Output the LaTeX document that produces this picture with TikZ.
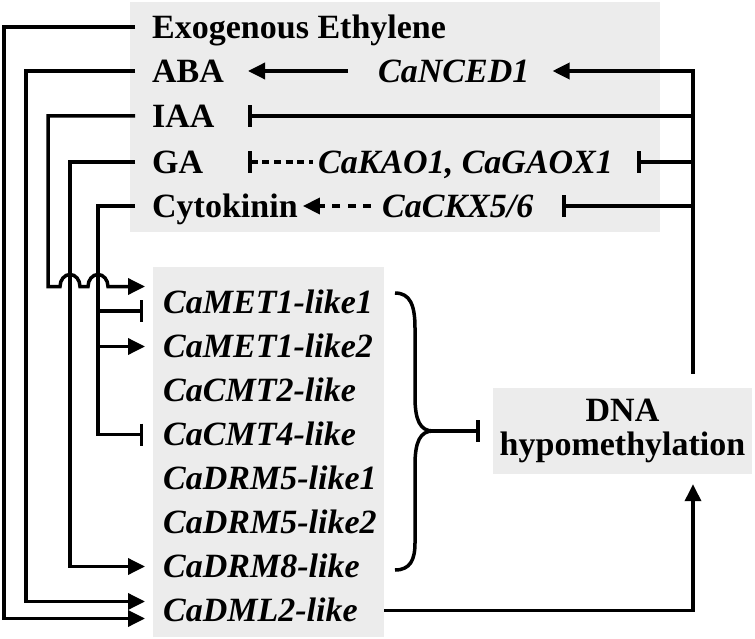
\documentclass[tikz,border=0pt]{standalone}
\usepackage{fontspec}
\setmainfont{Liberation Serif}
\usetikzlibrary{arrows.meta,calc}
\definecolor{boxgray}{RGB}{236,236,236}
\begin{document}
\begin{tikzpicture}[x=1pt,y=-1pt,
  lbl/.style={inner sep=0pt,text height=22.5pt,text depth=0pt,anchor=west,font=\fontsize{34}{36}\selectfont\bfseries},
  gene/.style={lbl,font=\fontsize{34}{36}\selectfont\bfseries\itshape},
  ln/.style={line width=3.5pt},
  arr/.style={ln,-{Triangle[length=17pt,width=16pt]}},
  inh/.style={ln,-{Bar[width=22pt]}},
  inhs/.style={ln,{Bar[width=22pt]}-},
  dsha/.style={dash pattern=on 7pt off 4.7pt},
  dshb/.style={dash pattern=on 8pt off 7.5pt}]
\useasboundingbox (0,0) rectangle (755,639);
% boxes
\node[fill=boxgray,inner sep=0pt,minimum width=530pt,minimum height=230pt] (tbox) at (395,117) {};
\node[fill=boxgray,inner sep=0pt,minimum width=231pt,minimum height=370pt] (gbox) at (268.5,452) {};
\node[fill=boxgray,inner sep=0pt,minimum width=259pt,minimum height=86pt,align=center,font=\fontsize{34}{34}\selectfont\bfseries] (dna) at (622.5,431) {DNA\\hypomethylation};
% top labels
\node[lbl] (eth) at (152,27) {Exogenous Ethylene};
\node[lbl] (aba) at (152,71) {ABA};
\node[lbl] (iaa) at (152,116) {IAA};
\node[lbl] (ga) at (152,162) {GA};
\node[lbl] (cyt) at (152,206) {Cytokinin};
\node[gene] (ncd) at (378,71) {CaNCED1};
\node[gene] (kao) at (318,162) {CaKAO1, CaGAOX1};
\node[gene] (ckx) at (382,206) {CaCKX5/6};
% genes
\node[gene] (met1) at (163,302.5) {CaMET1-like1};
\node[gene] (met2) at (163,346.5) {CaMET1-like2};
\node[gene] (cmt2) at (163,390.5) {CaCMT2-like};
\node[gene] (cmt4) at (163,434.5) {CaCMT4-like};
\node[gene] (drm51) at (163,478.5) {CaDRM5-like1};
\node[gene] (drm52) at (163,522.5) {CaDRM5-like2};
\node[gene] (drm8) at (163,566.5) {CaDRM8-like};
\node[gene] (dml) at (163,610.5) {CaDML2-like};
% helper coordinates
\coordinate (rv) at (693,0);
\coordinate (bx) at (248,0);
\coordinate (brtip) at (433,431);
% left connectors
\draw[arr] ($(eth.west)+(-17,0)$) -| ($(dml.west)+(-159,8)$) -- ($(dml.west)+(-18,8)$);
\draw[arr] ($(aba.west)+(-17,0)$) -| ($(dml.west)+(-137,-9)$) -- ($(dml.west)+(-18,-9)$);
\draw[arr] ($(iaa.west)+(-17,0)$) -| ($(met1.west)+(-115,-16)$) -- ($(met1.west)+(-103,-16)$)
  arc[start angle=180,end angle=0,x radius=10pt,y radius=12pt] -- ($(met1.west)+(-75,-16)$)
  arc[start angle=180,end angle=0,x radius=10pt,y radius=12pt] -- ($(met1.west)+(-18,-16)$);
\draw[arr] ($(ga.west)+(-17,0)$) -| ($(drm8.west)+(-93,0)$) -- ($(drm8.west)+(-18,0)$);
\draw[inh] ($(cyt.west)+(-17,0)$) -| ($(cmt4.west)+(-65,0)$) -- ($(cmt4.west)+(-20,0)$);
\draw[inh] ($(met1.west)+(-65,8.5)$) -- ($(met1.west)+(-20,8.5)$);
\draw[arr] ($(met2.west)+(-65,0)$) -- ($(met2.west)+(-18,0)$);
% top connectors
\draw[arr] ($(ncd.west)+(-30,0)$) -- (aba.center -| bx);
\draw[arr] ($(dna.north -| rv)+(0,-14)$) |- ($(ncd.east)+(23,0)$);
\draw[inh] (iaa.center -| rv) -- (iaa.center -| bx);
\draw[inhs,dsha] (ga.center -| bx) -- ($(kao.west)+(-5,0)$);
\draw[inh] (ga.center -| rv) -- ++(-56,0);
\draw[arr,dshb] ($(ckx.west)+(-11,0)$) -- ($(cyt.east)+(5,0)$);
\draw[inh] (cyt.center -| rv) -- ++(-131,0);
% bottom connector
\draw[arr] (dml.center -| gbox.east) -| ($(dna.south -| rv)+(0,10)$);
% brace
\draw[ln] (brtip) .. controls (420,431) and (415,420) .. (415,397) -- (415,328) .. controls (415,305) and (410,293) .. (395,293);
\draw[ln] (brtip) .. controls (420,431) and (415,442) .. (415,465) -- (415,543) .. controls (415,560) and (410,570) .. (395,570);
\draw[inh] (brtip) -- ($(dna.west)+(-13,0)$);
\end{tikzpicture}
\end{document}
